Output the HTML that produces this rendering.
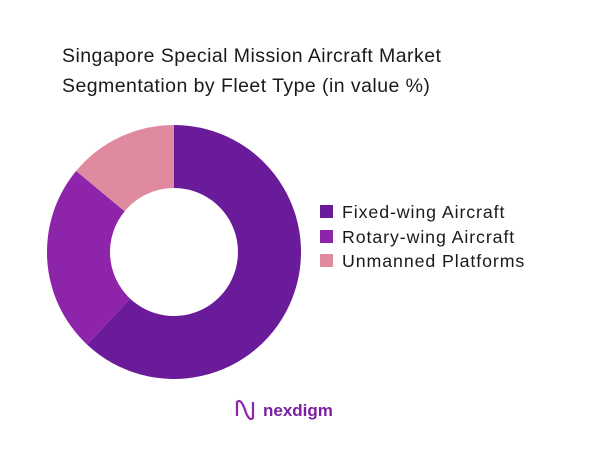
<!DOCTYPE html>
<html><head><meta charset="utf-8"><style>
body{margin:0;width:602px;height:451px;background:#fff;overflow:hidden;font-family:"Liberation Sans",sans-serif}
</style></head><body>
<svg width="602" height="451" viewBox="0 0 602 451" xmlns="http://www.w3.org/2000/svg">
<g font-family="Liberation Sans, sans-serif" font-size="19.5" fill="#1a1a1a" letter-spacing="0.45">
<text x="62" y="62">Singapore Special Mission Aircraft Market</text>
<text x="62" y="92">Segmentation by Fleet Type (in value %)</text>
</g>
<path d="M174 125 A127 127 0 1 1 87.1 344.6 L130.2 298.7 A64 64 0 1 0 174 188 Z" fill="#6a1b9a"/>
<path d="M87.1 344.6 A127 127 0 0 1 76.1 171 L124.7 211.2 A64 64 0 0 0 130.2 298.7 Z" fill="#8e24aa"/>
<path d="M76.1 171 A127 127 0 0 1 174 125 L174 188 A64 64 0 0 0 124.7 211.2 Z" fill="#e08aa0"/>
<rect x="320" y="205" width="13" height="13" fill="#6a1b9a"/>
<rect x="320" y="230" width="13" height="13" fill="#8e24aa"/>
<rect x="320" y="254" width="13" height="13" fill="#e08aa0"/>
<g font-family="Liberation Sans, sans-serif" font-size="17.8" fill="#1a1a1a" letter-spacing="0.9">
<text x="342" y="218">Fixed-wing Aircraft</text>
<text x="342" y="243">Rotary-wing Aircraft</text>
<text x="342" y="267">Unmanned Platforms</text>
</g>
<path d="M237 416 L237 402 Q241 398 245 410 Q249 422 253 418 L253 402" fill="none" stroke="#8e24aa" stroke-width="2.2"/>
<text x="263" y="416" font-family="Liberation Sans, sans-serif" font-size="17" font-weight="bold" fill="#7b1fa2">nexdigm</text>
</svg>
</body></html>
